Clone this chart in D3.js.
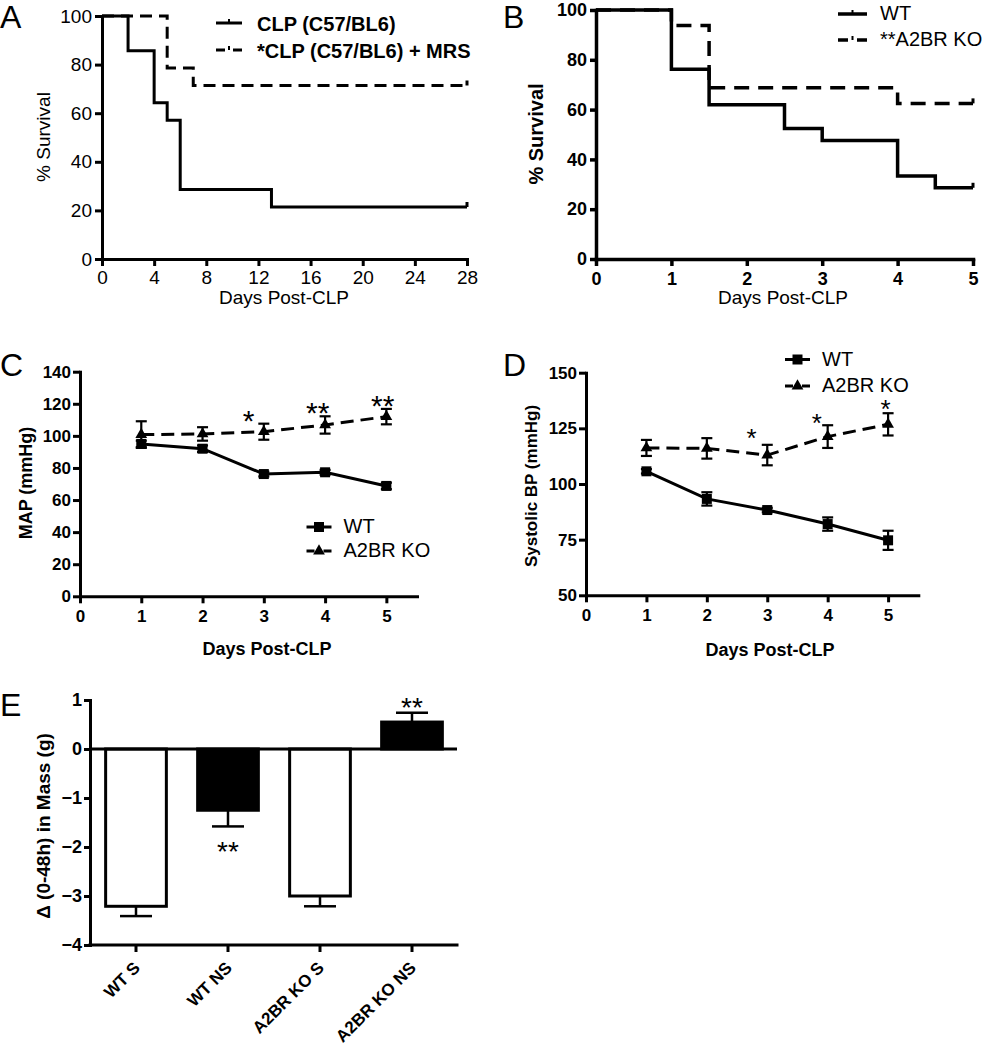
<!DOCTYPE html>
<html><head><meta charset="utf-8">
<script src="https://cdn.jsdelivr.net/npm/d3@7"></script>
<style>
body{margin:0;background:#fff}
svg text{font-family:"Liberation Sans",Arial,Helvetica,sans-serif;fill:#000}
</style></head><body>
<svg id="c" width="985" height="1050"></svg>
<script>
// ---------- DATA ----------
// Panel A (Kaplan-Meier, days 0-28)
const aDaysCLP = [0, 2, 4, 5, 6, 13, 28];
const aSurvCLP = [100, 85.7, 64.3, 57.1, 28.6, 21.4, 21.4];
const aDaysMRS = [0, 5, 7, 28];
const aSurvMRS = [100, 78.6, 71.4, 71.4];
const aXTicks = [0, 4, 8, 12, 16, 20, 24, 28];
const survTicks = [0, 20, 40, 60, 80, 100];
const aLegend = ["CLP (C57/BL6)", "*CLP (C57/BL6) + MRS"];

// Panel B (Kaplan-Meier, days 0-5)
const bDaysWT = [0, 1, 1.5, 2.5, 3, 4, 4.5, 5];
const bSurvWT = [100, 76.2, 61.9, 52.4, 47.6, 33.3, 28.6, 28.6];
const bDaysKO = [0, 1, 1.5, 4, 5];
const bSurvKO = [100, 93.75, 68.75, 62.5, 62.5];
const bXTicks = [0, 1, 2, 3, 4, 5];
const bLegend = ["WT", "**A2BR KO"];

// Panel C (MAP)
const bpDays = [1, 2, 3, 4, 5];
const bpXTicks = [0, 1, 2, 3, 4, 5];
const mapWT = [95, 92, 76.2, 77.3, 68.8];
const mapWTErr = [2, 2, 1.5, 1.5, 2];
const mapKO = [100.8, 101.2, 102.6, 106.8, 112];
const mapKOErr = [8.3, 4.2, 5, 5.4, 4.8];
const mapYTicks = [0, 20, 40, 60, 80, 100, 120, 140];
const mapStarDays = [2.75, 3.88, 4.94];
const mapStarVals = [114.3, 119.3, 123.6];
const mapStarText = ["*", "**", "**"];

// Panel D (Systolic BP)
const sbpWT = [105.7, 93.3, 88.3, 82, 74.7];
const sbpWTErr = [1, 3, 1, 3, 4.3];
const sbpKO = [116.2, 116, 113, 121.3, 126.8];
const sbpKOErr = [3.6, 4.6, 4.6, 5.1, 5];
const sbpYTicks = [50, 75, 100, 125, 150];
const sbpStarDays = [2.74, 3.82, 4.96];
const sbpStarVals = [123.5, 130.2, 136.7];
const sbpStarText = ["*", "*", "*"];
const bpLegend = ["WT", "A2BR KO"];

// Panel E (mass change)
const eCats = ["WT S", "WT NS", "A2BR KO S", "A2BR KO NS"];
const eVals = [-3.21, -1.25, -3.0, 0.55];
const eErr = [0.2, 0.33, 0.21, 0.19];
const eYTicks = [1, 0, -1, -2, -3, -4];
const eStarCats = ["WT NS", "A2BR KO NS"];
const eStarVals = [-1.95, 0.99];

// ---------- HELPERS ----------
const svg = d3.select("#c");
const intFmt = d3.format("d");

function styleAxis(g, fs, bold, sw) {
  g.attr("font-size", null).attr("font-family", null);
  g.select(".domain").attr("stroke", "#000").attr("stroke-width", sw).attr("stroke-linecap", "square");
  g.selectAll(".tick line").attr("stroke", "#000").attr("stroke-width", sw);
  g.selectAll(".tick text").attr("font-size", fs).attr("font-weight", bold ? "bold" : "normal").attr("fill", "#000");
}
function panelLetter(t, x, y) {
  svg.append("text").attr("x", x).attr("y", y).attr("font-size", 32).text(t);
}
function yLabel(t, x, y, fs, bold) {
  svg.append("text").attr("transform", `translate(${x},${y}) rotate(-90)`)
    .attr("text-anchor", "middle").attr("font-size", fs).attr("font-weight", bold ? "bold" : "normal").text(t);
}
function xLabel(t, x, y, fs, bold) {
  svg.append("text").attr("x", x).attr("y", y).attr("text-anchor", "middle")
    .attr("font-size", fs).attr("font-weight", bold ? "bold" : "normal").text(t);
}
function zip(a, b) { return a.map((v, i) => [v, b[i]]); }

// ---------- PANEL A ----------
{
  const x = d3.scaleLinear().domain([0, 28]).range([102, 467]);
  const y = d3.scaleLinear().domain([0, 100]).range([259, 16]);
  const line = d3.line().x(d => x(d[0])).y(d => y(d[1])).curve(d3.curveStepAfter);
  const g = svg.append("g");
  g.append("path").datum(zip(aDaysCLP, aSurvCLP)).attr("d", line)
    .attr("fill", "none").attr("stroke", "#000").attr("stroke-width", 3);
  g.append("path").datum(zip(aDaysMRS, aSurvMRS)).attr("d", line)
    .attr("fill", "none").attr("stroke", "#000").attr("stroke-width", 3).attr("stroke-dasharray", "12,7");
  [[aDaysCLP, aSurvCLP], [aDaysMRS, aSurvMRS]].forEach(([dd, ss]) => {
    const n = dd.length - 1;
    g.append("line").attr("x1", x(dd[n])).attr("x2", x(dd[n]))
      .attr("y1", y(ss[n])).attr("y2", y(ss[n]) - 5).attr("stroke", "#000").attr("stroke-width", 3);
  });
  const gx = svg.append("g").attr("transform", "translate(0,259)")
    .call(d3.axisBottom(x).tickValues(aXTicks).tickFormat(intFmt).tickSize(7).tickPadding(5).tickSizeOuter(0));
  styleAxis(gx, 19, false, 3);
  const gy = svg.append("g").attr("transform", "translate(102,0)")
    .call(d3.axisLeft(y).tickValues(survTicks).tickFormat(intFmt).tickSize(7).tickPadding(3).tickSizeOuter(0));
  styleAxis(gy, 19, false, 3);
  yLabel("% Survival", 50, 137, 19, false);
  xLabel("Days Post-CLP", 284, 304, 19, false);
  panelLetter("A", 0, 28);
  const rows = [23, 50];
  aLegend.forEach((t, i) => {
    const ly = rows[i];
    g.append("line").attr("x1", 216).attr("x2", 242).attr("y1", ly).attr("y2", ly)
      .attr("stroke", "#000").attr("stroke-width", 3).attr("stroke-dasharray", i ? "9,8" : null);
    g.append("line").attr("x1", 229).attr("x2", 229).attr("y1", ly).attr("y2", ly - 4)
      .attr("stroke", "#000").attr("stroke-width", 2);
    g.append("text").attr("x", 257).attr("y", ly + 7.5).attr("font-size", 20).attr("font-weight", "bold").text(t);
  });
}

// ---------- PANEL B ----------
{
  const x = d3.scaleLinear().domain([0, 5]).range([596, 973]);
  const y = d3.scaleLinear().domain([0, 100]).range([259, 10]);
  const line = d3.line().x(d => x(d[0])).y(d => y(d[1])).curve(d3.curveStepAfter);
  const g = svg.append("g");
  g.append("path").datum(zip(bDaysKO, bSurvKO)).attr("d", line)
    .attr("fill", "none").attr("stroke", "#000").attr("stroke-width", 3.5).attr("stroke-dasharray", "15,9");
  g.append("path").datum(zip(bDaysWT, bSurvWT)).attr("d", line)
    .attr("fill", "none").attr("stroke", "#000").attr("stroke-width", 3.5);
  [[bDaysWT, bSurvWT], [bDaysKO, bSurvKO]].forEach(([dd, ss]) => {
    const n = dd.length - 1;
    g.append("line").attr("x1", x(dd[n])).attr("x2", x(dd[n]))
      .attr("y1", y(ss[n])).attr("y2", y(ss[n]) - 5).attr("stroke", "#000").attr("stroke-width", 3);
  });
  const gx = svg.append("g").attr("transform", "translate(0,259)")
    .call(d3.axisBottom(x).tickValues(bXTicks).tickFormat(intFmt).tickSize(7).tickPadding(6).tickSizeOuter(0));
  styleAxis(gx, 18, true, 3.5);
  const gy = svg.append("g").attr("transform", "translate(596,0)")
    .call(d3.axisLeft(y).tickValues(survTicks).tickFormat(intFmt).tickSize(6).tickPadding(3).tickSizeOuter(0));
  styleAxis(gy, 18, true, 3.5);
  yLabel("% Survival", 543, 134, 20, true);
  xLabel("Days Post-CLP", 783, 304, 19, false);
  panelLetter("B", 503, 28);
  const rows = [14, 40];
  bLegend.forEach((t, i) => {
    const ly = rows[i];
    g.append("line").attr("x1", 838).attr("x2", 867).attr("y1", ly).attr("y2", ly)
      .attr("stroke", "#000").attr("stroke-width", 3.5).attr("stroke-dasharray", i ? "10,9" : null);
    g.append("line").attr("x1", 852.5).attr("x2", 852.5).attr("y1", ly).attr("y2", ly - 4)
      .attr("stroke", "#000").attr("stroke-width", 2);
    g.append("text").attr("x", 880).attr("y", ly + 6).attr("font-size", 20).text(t);
  });
}

// ---------- PANELS C & D (line + error bars) ----------
function bpPanel(opt) {
  const x = d3.scaleLinear().domain([0, 5.5]).range(opt.xr);
  const y = d3.scaleLinear().domain(opt.yd).range(opt.yr);
  const g = svg.append("g");
  const line = d3.line().x(d => x(d[0])).y(d => y(d[1]));
  g.append("path").datum(zip(bpDays, opt.wt)).attr("d", line)
    .attr("fill", "none").attr("stroke", "#000").attr("stroke-width", 3);
  g.append("path").datum(zip(bpDays, opt.ko)).attr("d", line)
    .attr("fill", "none").attr("stroke", "#000").attr("stroke-width", 3).attr("stroke-dasharray", "13,7");
  [[opt.wt, opt.wtErr], [opt.ko, opt.koErr]].forEach(([vals, errs]) => {
    bpDays.forEach((d, i) => {
      const cx = x(d), y1 = y(vals[i] - errs[i]), y2 = y(vals[i] + errs[i]);
      g.append("line").attr("x1", cx).attr("x2", cx).attr("y1", y1).attr("y2", y2).attr("stroke", "#000").attr("stroke-width", 2.2);
      [y1, y2].forEach(yy => g.append("line").attr("x1", cx - 5.5).attr("x2", cx + 5.5).attr("y1", yy).attr("y2", yy)
        .attr("stroke", "#000").attr("stroke-width", 2.2));
    });
  });
  const sq = d3.symbol(d3.symbolSquare, 100)();
  const tri = d3.symbol(d3.symbolTriangle, 60)();
  bpDays.forEach((d, i) => {
    g.append("path").attr("d", sq).attr("transform", `translate(${x(d)},${y(opt.wt[i])})`).attr("fill", "#000");
    g.append("path").attr("d", tri).attr("transform", `translate(${x(d)},${y(opt.ko[i])})`).attr("fill", "#000");
  });
  opt.starDays.forEach((d, i) => {
    g.append("text").attr("x", x(d)).attr("y", y(opt.starVals[i])).attr("dy", "0.6em")
      .attr("text-anchor", "middle").attr("font-size", opt.starFs).text(opt.starText[i]);
  });
  const gx = svg.append("g").attr("transform", `translate(0,${opt.yr[0]})`)
    .call(d3.axisBottom(x).tickValues(bpXTicks).tickFormat(intFmt).tickSize(7).tickPadding(7).tickSizeOuter(0));
  styleAxis(gx, 17, true, 3);
  const gy = svg.append("g").attr("transform", `translate(${opt.xr[0]},0)`)
    .call(d3.axisLeft(y).tickValues(opt.yTicks).tickFormat(intFmt).tickSize(7).tickPadding(2).tickSizeOuter(0));
  styleAxis(gy, 17, true, 3);
  yLabel(opt.yTitle, opt.ylx, opt.yly, opt.ylfs, true);
  xLabel("Days Post-CLP", opt.xlx, opt.xly, 18, true);
  bpLegend.forEach((t, i) => {
    const ly = opt.legY[i], lx = opt.legX;
    g.append("line").attr("x1", lx).attr("x2", lx + 25).attr("y1", ly).attr("y2", ly)
      .attr("stroke", "#000").attr("stroke-width", 3).attr("stroke-dasharray", i ? "8,9" : null);
    g.append("path").attr("d", i ? tri : sq).attr("transform", `translate(${lx + 12.5},${ly})`).attr("fill", "#000");
    g.append("text").attr("x", lx + 37).attr("y", ly + 6).attr("font-size", 20).text(t);
  });
}

bpPanel({
  xr: [80, 417], yd: [0, 140], yr: [596.3, 371.7],
  wt: mapWT, wtErr: mapWTErr, ko: mapKO, koErr: mapKOErr, yTicks: mapYTicks,
  starDays: mapStarDays, starVals: mapStarVals, starText: mapStarText, starFs: 30,
  yTitle: "MAP (mmHg)", ylx: 32, yly: 483, ylfs: 18, xlx: 267, xly: 655,
  legX: 306.5, legY: [527, 551]
});
bpPanel({
  xr: [586, 918.3], yd: [50, 150], yr: [595.3, 372.7],
  wt: sbpWT, wtErr: sbpWTErr, ko: sbpKO, koErr: sbpKOErr, yTicks: sbpYTicks,
  starDays: sbpStarDays, starVals: sbpStarVals, starText: sbpStarText, starFs: 26,
  yTitle: "Systolic BP (mmHg)", ylx: 537, yly: 486, ylfs: 17, xlx: 770, xly: 656,
  legX: 785, legY: [359.5, 386]
});
panelLetter("C", 0, 376);
panelLetter("D", 503, 376);

// ---------- PANEL E ----------
{
  const y = d3.scaleLinear().domain([-4, 1]).range([945, 700]);
  const x = d3.scaleBand().domain(eCats).range([90, 458]).paddingInner(0.34).paddingOuter(0.17);
  const g = svg.append("g");
  eCats.forEach((c, i) => {
    const v = eVals[i];
    const bx = x(c), bw = x.bandwidth(), cx = bx + bw / 2;
    const dir = v < 0 ? -1 : 1;
    const yEnd = y(v), yErr = y(v + dir * eErr[i]);
    g.append("line").attr("x1", cx).attr("x2", cx).attr("y1", yEnd).attr("y2", yErr).attr("stroke", "#000").attr("stroke-width", 2.5);
    g.append("line").attr("x1", cx - 16).attr("x2", cx + 16).attr("y1", yErr).attr("y2", yErr).attr("stroke", "#000").attr("stroke-width", 2.5);
    g.append("rect").attr("x", bx).attr("width", bw)
      .attr("y", Math.min(y(0), yEnd)).attr("height", Math.abs(y(0) - yEnd))
      .attr("fill", i % 2 ? "#000" : "#fff").attr("stroke", "#000").attr("stroke-width", 3);
  });
  g.append("line").attr("x1", 90).attr("x2", 457).attr("y1", y(0)).attr("y2", y(0)).attr("stroke", "#000").attr("stroke-width", 3);
  eStarCats.forEach((c, i) => {
    g.append("text").attr("x", x(c) + x.bandwidth() / 2).attr("y", y(eStarVals[i])).attr("dy", "0.6em")
      .attr("text-anchor", "middle").attr("font-size", 28).text("**");
  });
  const gx = svg.append("g").attr("transform", "translate(0,945)")
    .call(d3.axisBottom(x).tickSize(7).tickSizeOuter(0));
  styleAxis(gx, 17, true, 3);
  gx.select(".domain").attr("d", "M90,0H457");
  gx.selectAll(".tick text").attr("text-anchor", "end").attr("dy", null)
    .attr("transform", "translate(5,24) rotate(-45)").attr("y", 0).attr("x", 0);
  const gy = svg.append("g").attr("transform", "translate(90,0)")
    .call(d3.axisLeft(y).tickValues(eYTicks).tickFormat(intFmt).tickSize(6).tickPadding(2).tickSizeOuter(0));
  styleAxis(gy, 18, true, 3);
  yLabel("\u0394 (0-48h) in Mass (g)", 50, 826, 19, true);
  panelLetter("E", 0, 716);
}
</script>
</body></html>
